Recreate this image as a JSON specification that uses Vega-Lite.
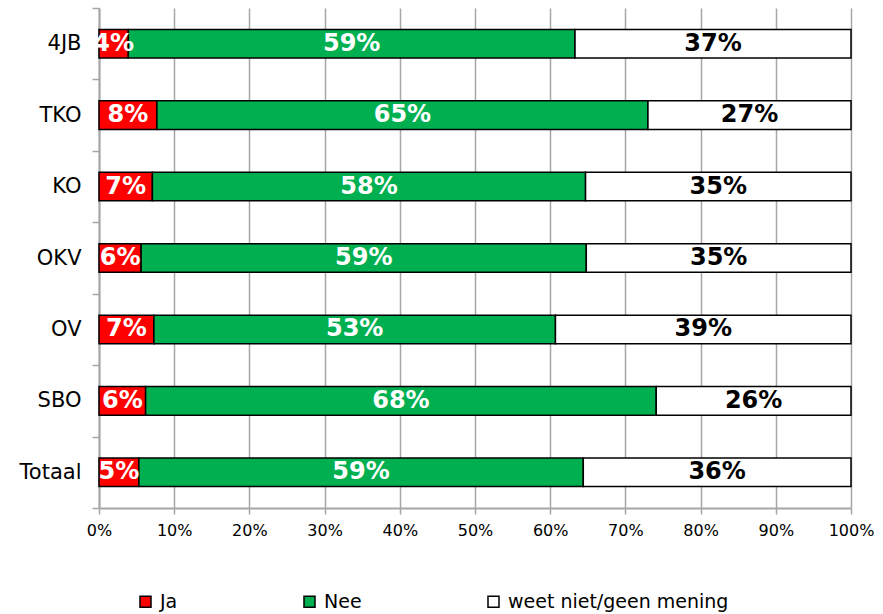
{
  "$schema": "https://vega.github.io/schema/vega-lite/v6.json",
  "width": 752,
  "height": 500,
  "autosize": {"type": "none"},
  "padding": {"left": 99, "top": 8, "right": 32, "bottom": 106},
  "background": "white",
  "config": {"view": {"stroke": null}, "font": "DejaVu Sans"},
  "data": {
    "values": [
      {"cat": "4JB", "answer": "Ja", "ord": 1, "value": 0.039},
      {"cat": "4JB", "answer": "Nee", "ord": 2, "value": 0.594},
      {"cat": "4JB", "answer": "weet niet/geen mening", "ord": 3, "value": 0.367},
      {"cat": "TKO", "answer": "Ja", "ord": 1, "value": 0.077},
      {"cat": "TKO", "answer": "Nee", "ord": 2, "value": 0.653},
      {"cat": "TKO", "answer": "weet niet/geen mening", "ord": 3, "value": 0.270},
      {"cat": "KO", "answer": "Ja", "ord": 1, "value": 0.071},
      {"cat": "KO", "answer": "Nee", "ord": 2, "value": 0.576},
      {"cat": "KO", "answer": "weet niet/geen mening", "ord": 3, "value": 0.353},
      {"cat": "OKV", "answer": "Ja", "ord": 1, "value": 0.056},
      {"cat": "OKV", "answer": "Nee", "ord": 2, "value": 0.592},
      {"cat": "OKV", "answer": "weet niet/geen mening", "ord": 3, "value": 0.352},
      {"cat": "OV", "answer": "Ja", "ord": 1, "value": 0.073},
      {"cat": "OV", "answer": "Nee", "ord": 2, "value": 0.534},
      {"cat": "OV", "answer": "weet niet/geen mening", "ord": 3, "value": 0.393},
      {"cat": "SBO", "answer": "Ja", "ord": 1, "value": 0.062},
      {"cat": "SBO", "answer": "Nee", "ord": 2, "value": 0.679},
      {"cat": "SBO", "answer": "weet niet/geen mening", "ord": 3, "value": 0.259},
      {"cat": "Totaal", "answer": "Ja", "ord": 1, "value": 0.053},
      {"cat": "Totaal", "answer": "Nee", "ord": 2, "value": 0.591},
      {"cat": "Totaal", "answer": "weet niet/geen mening", "ord": 3, "value": 0.356}
    ]
  },
  "transform": [
    {"stack": "value", "groupby": ["cat"], "sort": [{"field": "ord"}], "as": ["v0", "v1"]},
    {"calculate": "(datum.v0 + datum.v1) / 2", "as": "mid"}
  ],
  "encoding": {
    "y": {
      "field": "cat",
      "type": "nominal",
      "sort": ["4JB", "TKO", "KO", "OKV", "OV", "SBO", "Totaal"],
      "scale": {"paddingInner": 0, "paddingOuter": 0},
      "axis": {
        "title": null,
        "tickBand": "extent",
        "domainColor": "#a6a6a6",
        "domainWidth": 2,
        "tickColor": "#a6a6a6",
        "tickWidth": 1.5,
        "tickSize": 7,
        "labelFontSize": 21,
        "labelPadding": 11,
        "labelColor": "black",
        "grid": false
      }
    }
  },
  "layer": [
    {
      "mark": {"type": "bar", "height": {"band": 0.4}, "stroke": "black", "strokeWidth": 1.5},
      "encoding": {
        "x": {
          "field": "v0",
          "type": "quantitative",
          "scale": {"domain": [0, 1], "nice": false},
          "axis": {
            "title": null,
            "format": ".0%",
            "values": [0, 0.1, 0.2, 0.3, 0.4, 0.5, 0.6, 0.7, 0.8, 0.9, 1],
            "grid": true,
            "gridColor": "#a6a6a6",
            "gridWidth": 1.5,
            "domainColor": "#a6a6a6",
            "domainWidth": 2,
            "tickColor": "#a6a6a6",
            "tickWidth": 1.5,
            "tickSize": 6,
            "labelFontSize": 16,
            "labelPadding": 8,
            "labelFlush": false,
            "labelOverlap": false,
            "labelColor": "black"
          }
        },
        "x2": {"field": "v1"},
        "color": {
          "field": "answer",
          "type": "nominal",
          "scale": {
            "domain": ["Ja", "Nee", "weet niet/geen mening"],
            "range": ["#FF0000", "#00B050", "#FFFFFF"]
          },
          "legend": {
            "title": null,
            "orient": "none",
            "direction": "horizontal",
            "legendX": 37,
            "legendY": 584,
            "symbolType": "square",
            "symbolSize": 121,
            "symbolStrokeColor": "black",
            "symbolStrokeWidth": 1.5,
            "labelFontSize": 19,
            "labelLimit": 400,
            "labelColor": "black",
            "labelOffset": 5,
            "columnPadding": 122
          }
        }
      }
    },
    {
      "mark": {"type": "text", "fontWeight": "bold", "fontSize": 24, "baseline": "middle", "align": "center"},
      "encoding": {
        "x": {"field": "mid", "type": "quantitative"},
        "text": {"field": "value", "type": "quantitative", "format": ".0%"},
        "color": {
          "condition": {"test": "datum.answer === 'weet niet/geen mening'", "value": "black"},
          "value": "white"
        }
      }
    }
  ]
}
